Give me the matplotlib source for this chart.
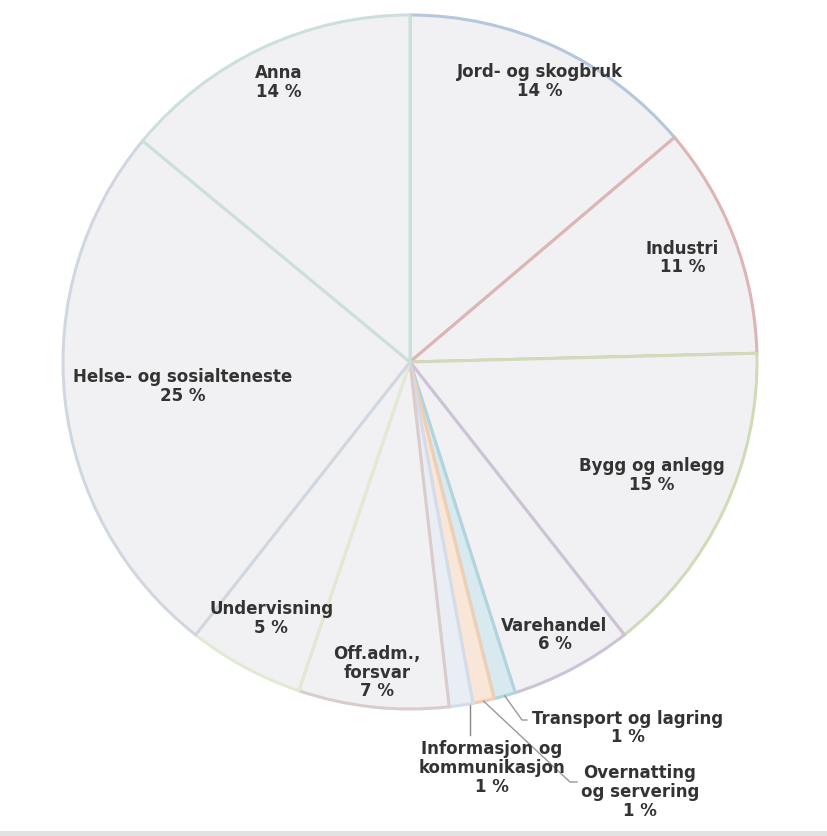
import matplotlib
matplotlib.use("Agg")
import matplotlib.pyplot as plt
import numpy as np
from matplotlib.colors import to_rgb

# sysselsette etter næring (prosent)
naering = ['Jord- og skogbruk', 'Industri', 'Bygg og anlegg', 'Varehandel',
           'Transport og lagring', 'Overnatting\nog servering',
           'Informasjon og\nkommunikasjon', 'Off.adm.,\nforsvar', 'Undervisning',
           'Helse- og sosialteneste', 'Anna']
andel = [13.8, 10.8, 14.8, 5.7, 1.0, 1.0, 1.1, 7.0, 5.4, 25.4, 14.0]

# highcharts-aktige grunnfargar
base = ['#4572A7', '#AA4643', '#89A54E', '#80699B', '#3D96AE', '#DB843D',
        '#92A8CD', '#A47D7C', '#B5CA92', '#8C9CB4', '#7FB0A8']


def lys(c, f):
    r, g, b = to_rgb(c)
    return (r + (1 - r) * f, g + (1 - g) * f, b + (1 - b) * f)


fill = ['#f1f1f3'] * len(andel)
for i in (4, 5, 6):
    fill[i] = lys(base[i], 0.8)
edges = [lys(c, 0.6) for c in base]

fig = plt.figure(figsize=(8.28, 8.36), dpi=100)
ax = fig.add_axes([0, 0, 1, 1])

cx, cy, R = 410, 474, 347
wedges, _ = ax.pie(andel, center=(cx, cy), radius=R, startangle=90,
                   counterclock=False, colors=fill,
                   wedgeprops=dict(linewidth=2.2), frame=True)
for w, e in zip(wedges, edges):
    w.set_edgecolor(e)
ax.set_xlim(0, 828)
ax.set_ylim(0, 836)
ax.set_aspect('equal')
ax.axis('off')

txt = dict(fontsize=12, fontweight='bold', color='#333333',
           ha='center', va='center', linespacing=1.05)

# avstand frå sentrum for etikettane inne i sektorane
inne_r = {0: 0.89, 1: 0.84, 2: 0.77, 3: 0.89, 7: 0.90, 8: 0.84, 9: 0.66, 10: 0.89}
for i, r in inne_r.items():
    w = wedges[i]
    a = np.deg2rad((w.theta1 + w.theta2) / 2)
    x = cx + r * R * np.cos(a)
    y = cy + r * R * np.sin(a)
    ax.text(x, y, f"{naering[i]}\n{round(andel[i])} %", **txt)

# små sektorar: etikett utanfor med leiarlinje (knekkpunkt, tekstsenter)
ute = {4: ((522, 116), (527, 116), (628, 108)),
       5: ((570, 54), (577, 54), (640, 44)),
       6: ((470, 101), (470, 101), (492, 68))}
for i, (k1, k2, t) in ute.items():
    w = wedges[i]
    a = np.deg2rad((w.theta1 + w.theta2) / 2)
    x0 = cx + R * np.cos(a)
    y0 = cy + R * np.sin(a)
    if i == 6:
        ax.plot([k1[0], k1[0]], [y0, k1[1]], color='#888888', lw=1)
    else:
        ax.plot([x0, k1[0], k2[0]], [y0, k1[1], k2[1]], color='#999999', lw=1)
    ax.text(t[0], t[1], f"{naering[i]}\n{round(andel[i])} %", **txt)

ax.axhspan(0, 5, color='#e2e2e2', lw=0)

fig.savefig('out.png', dpi=100)
